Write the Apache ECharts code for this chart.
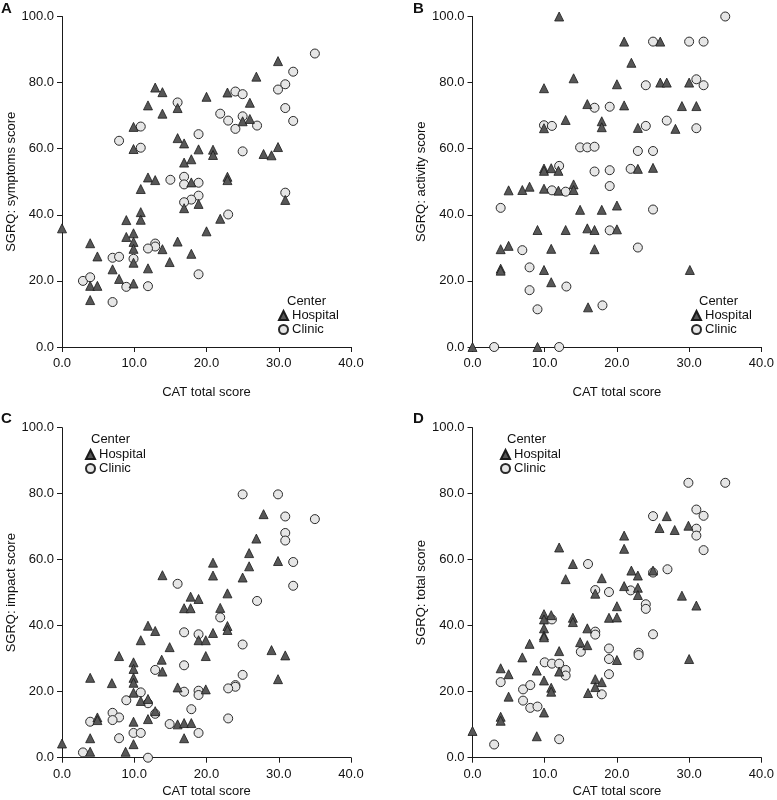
<!DOCTYPE html>
<html><head><meta charset="utf-8">
<script src="https://cdn.jsdelivr.net/npm/echarts@6/dist/echarts.min.js"></script>
<style>html,body{margin:0;padding:0;background:#fff}#c{width:777px;height:800px}</style>
</head><body><div id="c"></div>
<script>
var xTicks = [0, 10, 20, 30, 40];
var yTicks = [0, 20, 40, 60, 80, 100];
var xTitle = 'CAT total score';
var yTitles = ['SGRQ: symptoms score', 'SGRQ: activity score', 'SGRQ: impact score', 'SGRQ: total score'];
var panelLetters = ['A', 'B', 'C', 'D'];
var seriesNames = ['Hospital', 'Clinic'];

var aHospital = [[12.9,78.5],[13.9,77.1],[11.9,73.1],[13.9,70.6],[16.0,72.3],[20.0,75.7],[9.9,66.6],[9.9,59.9],[16.0,63.2],[16.9,61.6],[18.9,59.8],[16.9,55.8],[17.9,56.8],[11.9,51.3],[12.9,50.5],[17.9,49.8],[10.9,47.8],[18.9,43.3],[16.9,42.0],[10.9,40.8],[10.9,38.5],[8.9,38.4],[20.0,35.0],[0,35.9],[9.9,34.4],[8.9,33.3],[9.9,31.8],[9.9,29.7],[3.9,31.4],[16.0,31.9],[13.9,29.6],[4.9,27.4],[9.9,25.5],[17.9,28.2],[14.9,25.7],[7.0,23.5],[11.9,23.8],[7.9,20.6],[3.9,18.5],[4.9,18.5],[9.9,19.2],[3.9,14.2],[29.9,86.5],[26.9,81.8],[22.9,77.0],[26.0,73.9],[25.0,68.3],[26.0,69.0],[20.9,59.7],[20.9,58.1],[27.9,58.4],[29.0,58.0],[29.9,60.5],[22.9,51.5],[22.9,50.5],[30.9,44.5],[21.9,38.8]];
var aClinic = [[16.0,74.0],[10.9,66.7],[10.9,60.3],[7.9,62.4],[18.9,64.4],[15.0,50.6],[16.9,51.5],[16.9,49.2],[18.9,49.7],[18.9,45.8],[17.9,44.6],[16.9,43.8],[12.9,31.3],[12.9,30.4],[11.9,29.8],[7.0,27.0],[7.9,27.3],[9.9,26.7],[18.9,22.0],[2.9,20.0],[3.9,21.1],[8.9,18.2],[11.9,18.4],[7.0,13.6],[35.0,88.8],[32.0,83.3],[30.9,79.5],[29.9,77.9],[24.0,77.3],[25.0,76.5],[30.9,72.3],[32.0,68.4],[21.9,70.6],[23.0,68.5],[25.0,69.8],[27.0,67.0],[24.0,66.0],[25.0,59.2],[30.9,46.7],[23.0,40.1]];

var bHospital = [[12.0,100],[21.0,92.4],[26.0,92.4],[14.0,81.3],[9.9,78.3],[20.0,79.5],[15.9,73.5],[12.9,68.7],[9.9,66.2],[17.9,68.3],[17.9,66.5],[9.9,54.0],[9.9,53.3],[10.9,54.1],[11.9,53.3],[5.0,47.4],[6.9,47.5],[7.9,48.5],[9.9,47.9],[11.9,47.3],[14.0,49.2],[14.0,47.5],[14.9,41.5],[17.9,41.5],[20.0,42.8],[9.0,35.4],[12.9,35.4],[15.9,35.9],[16.9,35.4],[3.9,29.6],[5.0,30.6],[10.9,29.7],[16.9,29.6],[3.9,23.7],[3.9,23.1],[9.9,23.3],[10.9,19.6],[16.0,12.0],[0,0],[9.0,0],[22.0,86.0],[26.0,80.0],[26.9,80.0],[30.0,80.0],[21.0,73.1],[29.0,72.9],[31.0,72.9],[22.9,66.3],[28.1,66.0],[22.9,53.9],[25.0,54.2],[20.0,35.6],[30.1,23.3]];
var bClinic = [[35.0,100],[25.0,92.4],[30.0,92.4],[32.0,92.4],[16.9,72.4],[19.0,72.7],[9.9,67.1],[11.0,66.9],[14.9,60.4],[15.9,60.4],[16.9,60.6],[12.0,54.8],[16.9,53.1],[19.0,53.5],[11.0,47.4],[12.9,47.0],[19.0,48.7],[3.9,42.1],[19.0,35.3],[6.9,29.3],[7.9,24.1],[13.0,18.3],[7.9,17.2],[9.0,11.4],[18.0,12.6],[3.0,0],[12.0,0],[24.0,79.2],[31.0,81.0],[32.0,79.2],[24.0,66.9],[26.9,68.5],[31.0,66.2],[22.9,59.3],[25.0,59.3],[21.9,53.9],[25.0,41.6],[22.9,30.1]];

var cHospital = [[13.9,55.3],[17.8,48.8],[18.9,48.1],[16.9,45.3],[17.8,45.3],[11.9,40.0],[12.9,38.4],[18.9,35.6],[10.9,35.6],[14.9,33.5],[7.9,30.8],[9.9,28.9],[9.9,26.9],[13.8,29.7],[13.9,26.1],[3.9,24.2],[6.9,22.6],[9.9,24.2],[9.9,22.7],[16.0,21.3],[9.9,19.7],[10.9,17.2],[11.9,17.8],[12.9,14.1],[4.9,12.2],[4.9,11.4],[9.9,10.9],[11.9,11.7],[16.0,10.1],[16.9,10.5],[17.9,10.5],[16.9,5.9],[0,4.3],[3.9,5.9],[9.9,4.1],[3.9,1.8],[8.8,1.8],[27.9,73.8],[26.9,66.4],[25.9,62.0],[20.9,59.1],[25.9,58.0],[29.9,59.6],[20.9,55.2],[25.0,54.6],[22.9,49.8],[21.9,45.4],[22.9,39.9],[22.9,38.7],[19.9,35.6],[20.9,37.8],[19.9,30.8],[29.0,32.6],[30.9,31.0],[29.9,23.8],[19.9,20.7]];
var cClinic = [[16.0,52.7],[16.9,38.0],[18.9,37.4],[12.9,26.6],[16.9,28.0],[16.9,20.0],[18.9,20.3],[18.9,19.0],[10.9,19.8],[8.9,17.4],[11.9,16.5],[17.9,14.7],[12.9,13.3],[7.0,13.6],[7.9,12.2],[7.0,11.4],[3.9,10.9],[14.9,10.2],[18.9,7.5],[9.9,7.5],[10.9,7.5],[7.9,5.9],[2.9,1.6],[11.9,0],[25.0,79.8],[29.9,79.8],[30.9,73.1],[35.0,72.3],[30.9,68.1],[30.9,65.8],[32.0,59.3],[32.0,52.1],[27.0,47.5],[21.9,42.5],[25.0,34.3],[25.0,25.1],[24.0,22.0],[24.0,21.5],[23.0,21.0],[23.0,11.9]];

var dHospital = [[12.0,63.7],[13.9,58.7],[12.9,54.1],[17.9,54.4],[17.0,49.7],[20.0,45.9],[9.9,43.5],[9.9,41.9],[10.9,43.2],[13.9,42.4],[13.9,41.1],[18.9,42.4],[20.0,42.5],[9.9,39.2],[9.9,37.0],[9.9,36.5],[15.9,39.2],[7.9,34.5],[12.0,32.3],[14.9,35.0],[15.9,34.1],[6.9,30.4],[12.0,26.1],[8.9,26.4],[3.9,27.1],[5.0,25.3],[9.9,23.4],[17.0,23.8],[17.0,21.4],[17.9,22.9],[16.0,19.6],[10.9,21.2],[10.9,20.0],[5.0,18.5],[9.9,13.7],[3.9,12.4],[3.9,11.2],[0,8.1],[8.9,6.5],[26.9,73.2],[25.9,69.6],[28.0,69.0],[29.9,70.3],[21.0,67.3],[21.0,63.3],[22.0,56.7],[22.9,55.2],[25.0,56.7],[21.0,52.0],[22.9,51.5],[22.9,49.3],[29.0,49.1],[31.0,46.1],[20.0,29.6],[30.0,29.9]];
var dClinic = [[16.0,58.7],[17.0,50.8],[18.9,50.2],[11.0,41.9],[17.0,38.2],[17.0,37.3],[15.0,32.1],[18.9,33.1],[18.9,29.9],[18.9,25.3],[10.0,28.9],[11.0,28.5],[12.0,28.5],[12.9,26.6],[12.9,24.9],[3.9,22.9],[7.0,20.7],[8.0,22.0],[17.9,19.2],[7.0,17.3],[8.0,15.1],[9.0,15.5],[12.0,5.6],[3.0,4.0],[29.9,83.3],[35.0,83.3],[25.0,73.2],[31.0,75.2],[32.0,73.3],[31.0,69.4],[31.0,67.3],[32.0,62.9],[25.0,56.1],[27.0,57.1],[21.9,50.7],[24.0,46.5],[24.0,45.1],[25.0,37.4],[23.0,31.8],[23.0,31.1]];

var FONT = '"Liberation Sans", Arial, sans-serif';
var hospData = [aHospital, bHospital, cHospital, dHospital];
var clinData = [aClinic, bClinic, cClinic, dClinic];

var grids = [
  {left: 62, top: 16.5, width: 289, height: 330.5},
  {left: 472.5, top: 16.5, width: 289.5, height: 330.5},
  {left: 62, top: 427.7, width: 289, height: 330},
  {left: 472.5, top: 427.7, width: 289.5, height: 330}
];
var xNameGaps = [39, 39, 27, 27];
var legendPos = [
  {iconX: 283, firstY: 316, centerX: 287, centerY: 302},
  {iconX: 696, firstY: 316, centerX: 699, centerY: 302},
  {iconX: 90, firstY: 455, centerX: 91, centerY: 440},
  {iconX: 505, firstY: 455, centerX: 507, centerY: 440}
];
var letterPos = [[1, 1], [413, 1], [1, 411], [413, 411]];

function fmt(v) { return v.toFixed(1); }
function axisStyle(margin) {
  return {
    axisLine: {show: true, onZero: false, lineStyle: {color: '#1a1a1a', width: 1}},
    axisTick: {show: true, inside: false, length: 5, lineStyle: {color: '#1a1a1a'}},
    splitLine: {show: false},
    axisLabel: {color: '#111', fontSize: 13, fontFamily: FONT, formatter: fmt, margin: margin},
    nameTextStyle: {color: '#111', fontSize: 13, fontFamily: FONT}
  };
}

var xAxes = [], yAxes = [], series = [], legends = [], titles = [], graphics = [];
for (var i = 0; i < 4; i++) {
  xAxes.push(Object.assign(axisStyle(10), {
    gridIndex: i, type: 'value', min: xTicks[0], max: xTicks[xTicks.length - 1],
    interval: xTicks[1] - xTicks[0], name: xTitle, nameLocation: 'middle', nameGap: xNameGaps[i]
  }));
  yAxes.push(Object.assign(axisStyle(8), {
    gridIndex: i, type: 'value', min: yTicks[0], max: yTicks[yTicks.length - 1],
    interval: yTicks[1] - yTicks[0], name: yTitles[i], nameLocation: 'middle', nameGap: 44
  }));
  series.push({
    type: 'scatter', name: seriesNames[0], xAxisIndex: i, yAxisIndex: i,
    symbol: 'triangle', symbolSize: 9, data: hospData[i],
    itemStyle: {color: '#575757', borderColor: '#1a1a1a', borderWidth: 0.8, opacity: 1},
    z: 3
  });
  series.push({
    type: 'scatter', name: seriesNames[1], xAxisIndex: i, yAxisIndex: i,
    symbol: 'circle', symbolSize: 9, data: clinData[i],
    itemStyle: {color: '#e6e6e6', borderColor: '#2a2a2a', borderWidth: 1, opacity: 1},
    z: 2
  });
  var lp = legendPos[i];
  legends.push({
    orient: 'vertical', left: lp.iconX - 5, top: lp.firstY - 7,
    itemWidth: 9, itemHeight: 9, itemGap: 1, padding: 0,
    selectedMode: false,
    textStyle: {color: '#111', fontSize: 13, fontFamily: FONT, padding: [0, 0, 0, -1]},
    data: [{name: seriesNames[0], icon: 'triangle'}, {name: seriesNames[1], icon: 'circle'}]
  });
  graphics.push({
    type: 'text', left: lp.centerX, top: lp.centerY - 7,
    style: {text: 'Center', fill: '#111', font: '13px ' + FONT}
  });
  titles.push({
    text: panelLetters[i], left: letterPos[i][0], top: letterPos[i][1], padding: 0,
    textStyle: {fontSize: 15, fontWeight: 'bold', color: '#111', fontFamily: FONT}
  });
}

var chart = echarts.init(document.getElementById('c'), null, {renderer: 'canvas'});
chart.setOption({
  animation: false,
  backgroundColor: '#ffffff',
  title: titles,
  grid: grids,
  xAxis: xAxes,
  yAxis: yAxes,
  legend: legends,
  graphic: graphics,
  series: series
});
</script></body></html>
